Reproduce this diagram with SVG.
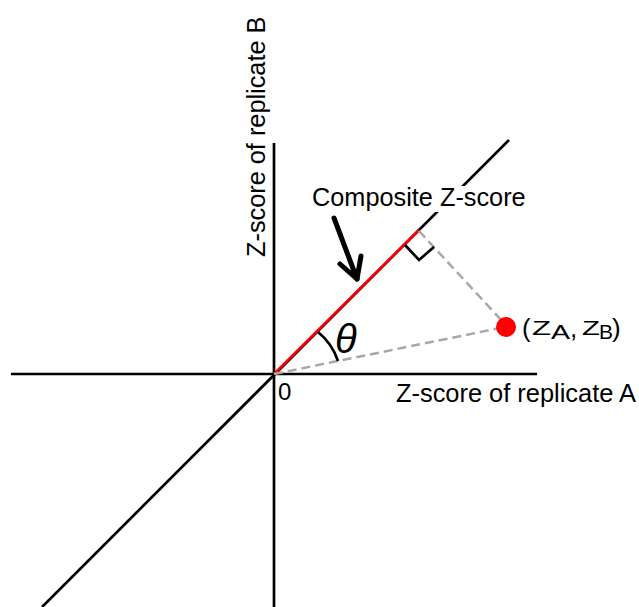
<svg xmlns="http://www.w3.org/2000/svg" width="639" height="607" viewBox="0 0 639 607">
<style>
text{font-family:"Liberation Sans",Arial,sans-serif;fill:#000}
.ax{stroke:#000;stroke-width:2.7;fill:none}
.dash{stroke:#a8a8a8;stroke-width:2.5;stroke-dasharray:9 5;fill:none}
</style>
<rect width="639" height="607" fill="#fff"/>
<g id="connectors">
<line class="ax" x1="11" y1="374" x2="537" y2="374"/>
<line class="ax" x1="274" y1="143" x2="274" y2="607"/>
<line class="ax" x1="42" y1="607" x2="509" y2="140"/>
<line x1="274" y1="374" x2="419" y2="230" stroke="#ff0000" stroke-width="2.6"/>
<line class="dash" x1="274" y1="374" x2="500" y2="328"/>
<line class="dash" x1="419" y1="231" x2="503" y2="322"/>
<polyline class="ax" points="405,245 419,260 434,247" stroke-width="2.5"/>
<path class="ax" d="M318,332 A63,63 0 0 1 338,361" stroke-width="2.5"/>
<g stroke="#000" stroke-width="5" stroke-linecap="round" stroke-linejoin="round" fill="none">
<line x1="334" y1="218" x2="357" y2="279"/>
<polyline points="340,264 357,279 361,256"/>
</g>
</g>
<g id="point">
<circle cx="506" cy="327" r="10" fill="#ff0000"/>
<text font-size="26"><tspan x="522" y="336.5">(</tspan><tspan x="532" y="334.5" font-size="21" textLength="19" lengthAdjust="spacingAndGlyphs">Z</tspan><tspan x="551" y="338.5" font-size="21" textLength="19" lengthAdjust="spacingAndGlyphs">A</tspan><tspan x="570" y="336.5">,</tspan><tspan x="582" y="334.5" font-size="21" textLength="18" lengthAdjust="spacingAndGlyphs">Z</tspan><tspan x="599" y="338.5" font-size="21" textLength="14" lengthAdjust="spacingAndGlyphs">B</tspan><tspan x="612" y="336.5">)</tspan></text>
</g>
<g id="labels">
<g id="composite">
<rect x="310" y="186" width="218" height="26" fill="#fff"/>
<text x="312" y="206" font-size="25.3">Composite Z-score</text>
</g>
<text id="axisA" x="396" y="402" font-size="25.4">Z-score of replicate A</text>
<text id="axisB" transform="translate(265,257) rotate(-90)" font-size="25.3">Z-score of replicate B</text>
<text id="origin" x="278" y="400" font-size="24">0</text>
<text id="theta" x="335" y="353" font-size="40" font-style="italic">θ</text>
</g>
</svg>
